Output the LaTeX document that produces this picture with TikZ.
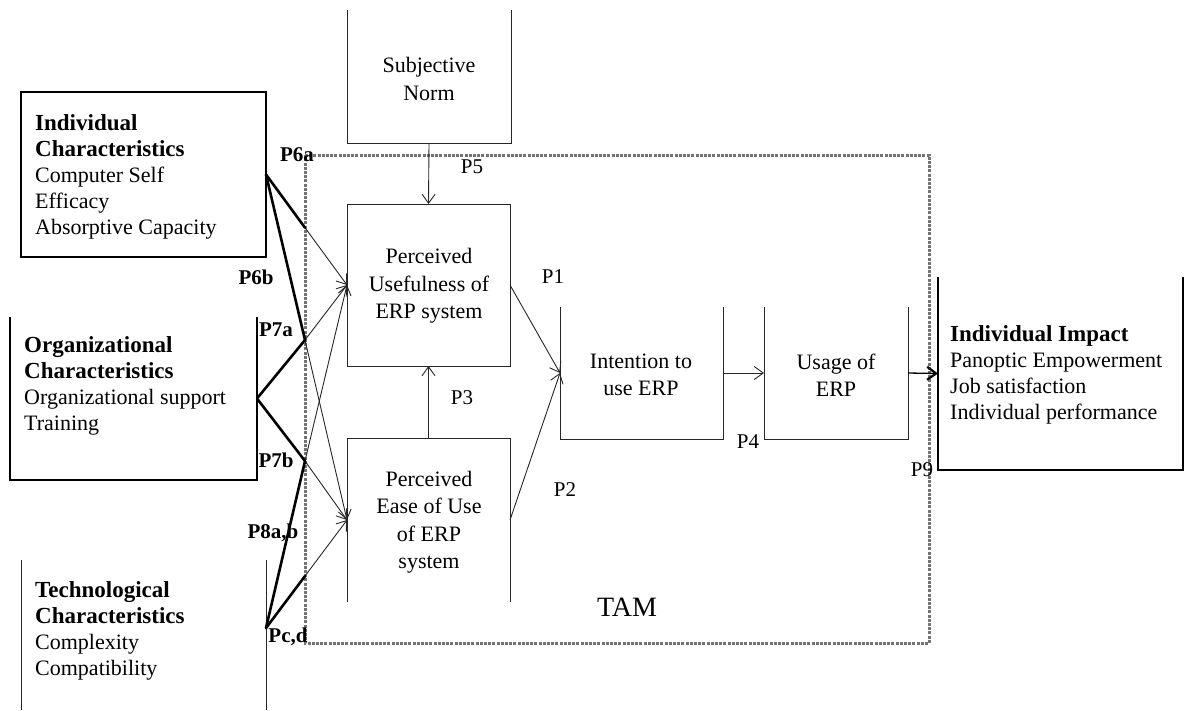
\documentclass[tikz,border=0pt]{standalone}
\usepackage{fontspec}
\setmainfont{Liberation Serif}
\usetikzlibrary{arrows.meta,calc}
\newcommand{\bhd}{\fontsize{23}{26}\selectfont\bfseries}
\begin{document}
\begin{tikzpicture}[x=1pt,y=-1pt,
  boxn/.style={rectangle,inner sep=0pt,outer sep=0pt,draw=none},
  boxline/.style={draw=black!85,line width=1pt},
  boldbox/.style={draw=black,line width=1.6pt},
  txt/.style={inner sep=0pt,align=left,font=\fontsize{22}{26}\selectfont},
  ctxt/.style={inner sep=0pt,align=center,font=\fontsize{22}{27.5}\selectfont},
  plab/.style={inner sep=0pt,font=\fontsize{21}{24}\selectfont},
  blab/.style={inner sep=0pt,font=\fontsize{21}{24}\selectfont\bfseries},
  arr/.style={draw=black!85,line width=0.9pt,-{Straight Barb[length=9pt,width=13pt]}},
  thick line/.style={draw=black,line width=2.6pt,line cap=round},
  tamline/.style={draw=black!55,line width=3pt,dash pattern=on 3pt off 1.2pt}
]
\useasboundingbox (0,0) rectangle (1185,710);

% TAM frame
\node[boxn,minimum width=624pt,minimum height=488pt] (tam) at (617,399) {};
\draw[tamline] (tam.north west) -- (tam.north east) -- (tam.south east) -- (tam.south west) -- cycle;
\node[inner sep=0pt,font=\fontsize{28}{30}\selectfont] (tamlabel) at (627,607) {TAM};

% boxes
\node[boxn,minimum width=245pt,minimum height=165pt] (IC) at (143.5,174.5) {};
\node[boxn,minimum width=247pt,minimum height=163pt] (ORG) at (133.5,398.5) {};
\node[boxn,minimum width=245pt,minimum height=164pt] (TECH) at (143.5,628) {};
\node[boxn,minimum width=164pt,minimum height=133pt] (SN) at (429,76.5) {};
\node[boxn,minimum width=163pt,minimum height=162pt] (PU) at (428.5,285) {};
\node[boxn,minimum width=163pt,minimum height=164pt] (PEOU) at (428.5,520) {};
\node[boxn,minimum width=163pt,minimum height=132pt] (INT) at (641.5,373) {};
\node[boxn,minimum width=144pt,minimum height=132pt] (US) at (836,373) {};
\node[boxn,minimum width=245pt,minimum height=193pt] (IMP) at (1060.5,373.5) {};

\draw[boldbox] (IC.north west) rectangle (IC.south east);
\draw[boldbox] (ORG.north west) -- (ORG.south west) -- (ORG.south east) -- (ORG.north east);
\draw[boxline] ([yshift=-14pt]TECH.north west) -- (TECH.south west);
\draw[boxline] ([yshift=-14pt]TECH.north east) -- (TECH.south east);
\draw[boxline] (SN.north west) -- (SN.south west) -- (SN.south east) -- (SN.north east);
\draw[boxline] (PU.north west) rectangle (PU.south east);
\draw[boxline] (PEOU.south west) -- (PEOU.north west) -- (PEOU.north east) -- (PEOU.south east);
\draw[boxline] (INT.north west) -- (INT.south west) -- (INT.south east) -- (INT.north east);
\draw[boxline] (US.north west) -- (US.south west) -- (US.south east) -- (US.north east);
\draw[boldbox] (IMP.north west) -- (IMP.south west) -- (IMP.south east) -- (IMP.north east);

% texts
\node[txt,anchor=west] (ICt) at (35,177) {{\bhd Individual}\\{\bhd Characteristics}\\Computer Self\\Efficacy\\Absorptive Capacity};
\node[txt,anchor=west] (ORGt) at (24,385.5) {{\bhd Organizational}\\{\bhd Characteristics}\\Organizational support\\Training};
\node[txt,anchor=west] (TECHt) at (35,631) {{\bhd Technological}\\{\bhd Characteristics}\\Complexity\\Compatibility};
\node[txt,anchor=west] (IMPt) at (950,374.5) {{\bhd Individual Impact}\\Panoptic Empowerment\\Job satisfaction\\Individual performance};
\node[ctxt] (SNt) at (429,79) {Subjective\\Norm};
\node[ctxt] (PUt) at (429,286) {Perceived\\Usefulness of\\ERP system};
\node[ctxt] (PEOUt) at (429,522) {Perceived\\Ease of Use\\of ERP\\system};
\node[ctxt] (INTt) at (641,375) {Intention to\\use ERP};
\node[ctxt] (USt) at (836,375) {Usage of\\ERP};

% TAM connectors
\draw[arr] (SN.south) -- (PU.north);
\draw[arr] (PEOU.north) -- (PU.south);
\draw[arr] (PU.east) -- (INT.west);
\draw[arr] (PEOU.east) -- (INT.west);
\draw[arr] (INT.east) -- (US.west);
\draw[draw=black,line width=1.3pt,-{Straight Barb[length=9pt,width=13pt,line width=2.2pt]}] (US.east) -- (IMP.west);

% external connectors
\coordinate (J1) at (305,340);
\coordinate (J2) at (305,461);
\draw[arr] (IC.east) -- (PU.west);
\draw[arr] (TECH.east) -- (PEOU.west);
\draw[arr] (J1) -- (PU.west);
\draw[arr] (J1) -- (PEOU.west);
\draw[arr] (J2) -- (PU.west);
\draw[arr] (J2) -- (PEOU.west);
\draw[thick line] (IC.east) -- ($(IC.east)!0.48!(PU.west)$);
\draw[thick line] (TECH.east) -- ($(TECH.east)!0.48!(PEOU.west)$);
\draw[thick line] (IC.east) -- (J1);
\draw[thick line] (ORG.east) -- (J1);
\draw[thick line] (ORG.east) -- (J2);
\draw[thick line] (TECH.east) -- (J2);

% labels
\node[blab] (lP6a) at (297,155) {P6a};
\node[blab] (lP6b) at (256,277) {P6b};
\node[blab] (lP7a) at (276,330) {P7a};
\node[blab] (lP7b) at (276,460) {P7b};
\node[blab] (lP8ab) at (273,533) {P8a,b};
\node[blab] (lPcd) at (288,637) {Pc,d};
\node[plab] (lP5) at (472,167) {P5};
\node[plab] (lP3) at (462,398) {P3};
\node[plab] (lP1) at (553,277) {P1};
\node[plab] (lP2) at (565,490) {P2};
\node[plab] (lP4) at (748,442) {P4};
\node[plab] (lP9) at (922,470) {P9};
\end{tikzpicture}
\end{document}
